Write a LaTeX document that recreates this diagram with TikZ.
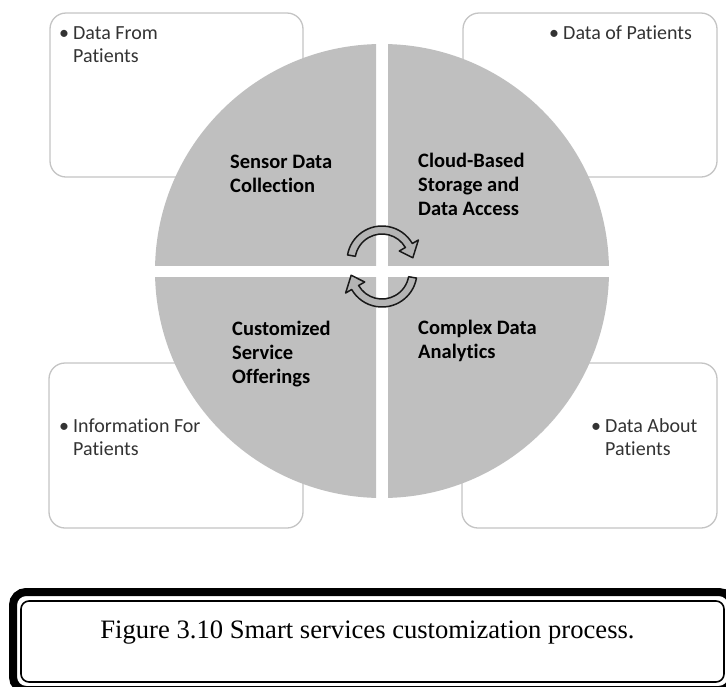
\documentclass[tikz,border=0pt]{standalone}
\usepackage{fontspec}
\setmainfont{Liberation Serif}
\newfontfamily\carlito[Ligatures=NoCommon]{Carlito}
\definecolor{quadfill}{HTML}{BFBFBF}
\definecolor{boxline}{HTML}{C4C4C4}
\definecolor{boxtext}{HTML}{333333}
\definecolor{arrowfill}{HTML}{B4B4B4}
% stacked lines whose reference point is the baseline of the first line
\newcommand{\stackedlines}[1]{\vtop{\halign{##\hfil\cr#1\crcr}}}
\newcommand{\bulletmark}{\llap{\textbullet\hspace{4pt}}}
\begin{document}
\begin{tikzpicture}[x=1pt,y=-1pt,
  infobox/.style={draw=boxline, line width=1.3pt, rounded corners=16pt, fill=white},
  infotext/.style={anchor=base west, inner sep=0pt,
    font=\carlito\fontsize{20}{23.5}\selectfont, text=boxtext},
  quadtext/.style={anchor=base west, inner sep=0pt,
    font=\carlito\bfseries\fontsize{20.5}{24.3}\selectfont, text=black},
  cyclearrow/.style={fill=arrowfill, draw=black!90, line width=1.5pt, line join=round}]
\useasboundingbox (0,0) rectangle (726,686);

% outer information boxes (behind the circle)
\draw[infobox] (50,13) rectangle (303,177);
\draw[infobox] (463,13) rectangle (717,177);
\draw[infobox] (49,363) rectangle (303,528);
\draw[infobox] (462,363) rectangle (717,528);

% four quadrants of the process circle, separated by a white cross
\begin{scope}
  \clip (0,0) rectangle (376,265);
  \fill[quadfill] (382,271) circle[radius=227];
\end{scope}
\begin{scope}
  \clip (388,0) rectangle (726,265);
  \fill[quadfill] (382,271) circle[radius=227];
\end{scope}
\begin{scope}
  \clip (0,277) rectangle (376,686);
  \fill[quadfill] (382,271) circle[radius=227];
\end{scope}
\begin{scope}
  \clip (388,277) rectangle (726,686);
  \fill[quadfill] (382,271) circle[radius=227];
\end{scope}

% bullet texts in the boxes
\node[infotext] (infoTL) at (73,39) {\stackedlines{\bulletmark Data From\cr Patients}};
\node[infotext] (infoTR) at (563,39) {\stackedlines{\bulletmark Data of Patients}};
\node[infotext] (infoBL) at (73,432) {\stackedlines{\bulletmark Information For\cr Patients}};
\node[infotext] (infoBR) at (605,432) {\stackedlines{\bulletmark Data About\cr Patients}};

% quadrant labels
\node[quadtext] (stepTL) at (230,168) {\stackedlines{Sensor Data\cr Collection}};
\node[quadtext] (stepTR) at (418,167) {\stackedlines{Cloud-Based\cr Storage and\cr Data Access}};
\node[quadtext] (stepBR) at (418,334) {\stackedlines{Complex Data\cr Analytics}};
\node[quadtext] (stepBL) at (232,335) {\stackedlines{Customized\cr Service\cr Offerings}};

% circular arrows in the middle
\begin{scope}[shift={(382,261)}]
  \filldraw[cyclearrow] (190:35) arc[start angle=190, end angle=330, radius=35]
    -- (330:42) -- (354:31) -- (330:20) -- (330:27)
    arc[start angle=330, end angle=190, radius=27] -- cycle;
\end{scope}
\begin{scope}[shift={(382,272)}]
  \filldraw[cyclearrow] (10:35) arc[start angle=10, end angle=150, radius=35]
    -- (150:42) -- (174:31) -- (150:20) -- (150:27)
    arc[start angle=150, end angle=10, radius=27] -- cycle;
\end{scope}

% caption frame: thick outer border and thin inner border
\draw[line width=8pt, rounded corners=13pt] (13,592) rectangle (732,690);
\draw[line width=1.6pt, rounded corners=8pt] (21,601) rectangle (724,682);
\node[anchor=base, inner sep=0pt, font=\fontsize{26.6}{30}\selectfont] (caption) at (367.5,638)
  {Figure 3.10 Smart services customization process.};
\end{tikzpicture}
\end{document}
